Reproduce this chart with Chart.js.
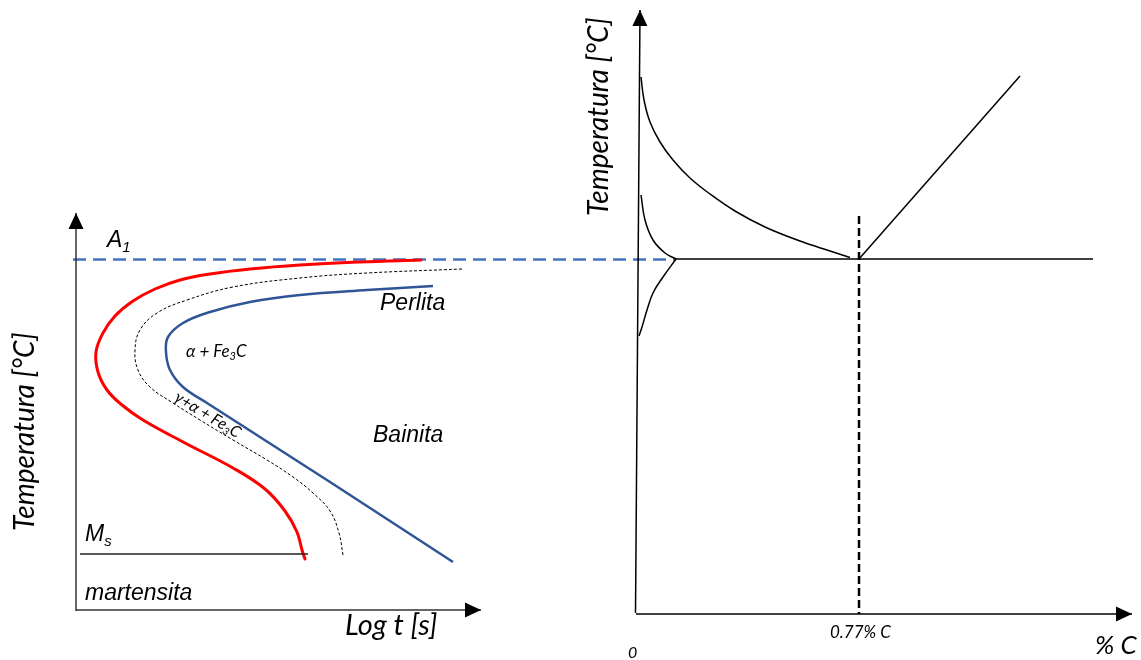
<!DOCTYPE html>
<html>
<head>
<meta charset="utf-8">
<title>Diagrama TTT - Fe-C</title>
<script src="https://cdn.jsdelivr.net/npm/chart.js@4/dist/chart.umd.min.js"></script>
<style>
  body { margin: 0; background: #fff; }
  canvas { display: block; }
</style>
</head>
<body>
<canvas id="diagram" width="1141" height="660"></canvas>
<script>
// Schematic data (drawing units: x to the right, y downwards)

// TTT diagram (left)
const tttAxisY = [{x: 76, y: 611}, {x: 76, y: 213}];
const tttAxisX = [{x: 76, y: 610}, {x: 481, y: 610}];
const a1Line = [{x: 73, y: 259.5}, {x: 676, y: 259.5}];
const msLine = [{x: 80, y: 554}, {x: 308, y: 554}];

// start of transformation (red)
const startCurve = [
  {x: 421, y: 260}, {x: 360, y: 262}, {x: 300, y: 265}, {x: 250, y: 269},
  {x: 210, y: 274}, {x: 180, y: 280}, {x: 155, y: 289}, {x: 133, y: 301},
  {x: 115, y: 316}, {x: 103, y: 333}, {x: 96, y: 352}, {x: 98, y: 372},
  {x: 107, y: 390}, {x: 122, y: 405}, {x: 143, y: 420}, {x: 185, y: 443},
  {x: 233, y: 468}, {x: 265, y: 489}, {x: 285, y: 511}, {x: 297, y: 532},
  {x: 302, y: 550}, {x: 305, y: 559}
];
// 50 % transformed (black dashed)
const halfCurve = [
  {x: 462, y: 269}, {x: 367, y: 273}, {x: 300, y: 278}, {x: 233, y: 287},
  {x: 187, y: 300}, {x: 157, y: 313}, {x: 140, y: 330}, {x: 135, y: 350},
  {x: 138, y: 370}, {x: 150, y: 387}, {x: 173, y: 403}, {x: 200, y: 420},
  {x: 233, y: 440}, {x: 267, y: 460}, {x: 293, y: 477}, {x: 313, y: 493},
  {x: 330, y: 511}, {x: 339, y: 533}, {x: 343, y: 555}
];
// end of transformation (blue)
const endCurve = [
  {x: 433, y: 286}, {x: 367, y: 290}, {x: 300, y: 295}, {x: 250, y: 302},
  {x: 210, y: 312}, {x: 183, y: 323}, {x: 168, y: 337}, {x: 166, y: 352},
  {x: 170, y: 370}, {x: 183, y: 387}, {x: 207, y: 403}, {x: 330, y: 482},
  {x: 453, y: 562}
];

// Fe-C diagram (right)
const feAxisY = [{x: 635.5, y: 613}, {x: 640, y: 10}];
const feAxisX = [{x: 636, y: 614}, {x: 1132, y: 614}];
const eutectoidLine = [{x: 676, y: 259}, {x: 1093, y: 259}];
const a3Curve = [
  {x: 641, y: 77}, {x: 644, y: 100}, {x: 650, y: 122}, {x: 660, y: 142},
  {x: 673, y: 160}, {x: 690, y: 178}, {x: 710, y: 194}, {x: 735, y: 211},
  {x: 765, y: 227}, {x: 800, y: 241}, {x: 830, y: 251}, {x: 850, y: 257.5}
];
const alphaUpper = [{x: 641, y: 195}, {x: 645, y: 220}, {x: 653, y: 240}, {x: 665, y: 253}, {x: 676, y: 259}];
const alphaLower = [{x: 676, y: 259}, {x: 663, y: 277}, {x: 653, y: 293}, {x: 647, y: 310}, {x: 642, y: 327}, {x: 639, y: 336}];
const acmLine = [{x: 859, y: 259}, {x: 1020, y: 76}];
const eutectoidComp = [{x: 859, y: 216}, {x: 859, y: 614}];

// labels: parts are [text, subscript?]
const arial = '"Liberation Sans", Arial, sans-serif';
const calibri = 'Lato, "Open Sans", sans-serif';
const labels = [
  {parts: [['A'], ['1', true]], x: 107, y: 247, size: 23, family: arial},
  {parts: [['Perlita']], x: 380, y: 310, size: 23, family: arial},
  {parts: [['Bainita']], x: 373, y: 442, size: 23, family: arial},
  {parts: [['α + Fe'], ['3', true], ['C']], x: 186, y: 357, size: 17, family: calibri},
  {parts: [['γ+α + Fe'], ['3', true], ['C']], x: 173, y: 400, size: 16, family: calibri, rot: 31},
  {parts: [['M'], ['s', true]], x: 85, y: 541, size: 23, family: arial},
  {parts: [['martensita']], x: 85, y: 600, size: 23, family: arial},
  {parts: [['Log t [s]']], x: 345, y: 635, size: 29, family: calibri},
  {parts: [['Temperatura [°C]']], x: 34, y: 531, size: 28, family: calibri, rot: -90},
  {parts: [['Temperatura [°C]']], x: 608, y: 216, size: 28, family: calibri, rot: -90},
  {parts: [['0.77% C']], x: 830, y: 638, size: 17, family: calibri},
  {parts: [['0']], x: 628, y: 658, size: 16, family: calibri},
  {parts: [['% C']], x: 1095, y: 654, size: 26, family: calibri}
];

function line(data, color, width, extra) {
  return Object.assign({
    data: data,
    showLine: true,
    borderColor: color,
    backgroundColor: color,
    borderWidth: width,
    pointRadius: 0,
    tension: 0,
    clip: false,
    fill: false
  }, extra || {});
}

// draws arrowheads on axes and the text labels
const decorations = {
  id: 'decorations',
  afterDatasetsDraw(chart) {
    const ctx = chart.ctx;
    const sx = chart.scales.x, sy = chart.scales.y;
    chart.data.datasets.forEach((ds) => {
      if (!ds.arrow) return;
      const n = ds.data.length;
      const a = ds.data[n - 2], b = ds.data[n - 1];
      const x0 = sx.getPixelForValue(a.x), y0 = sy.getPixelForValue(a.y);
      const x1 = sx.getPixelForValue(b.x), y1 = sy.getPixelForValue(b.y);
      const ang = Math.atan2(y1 - y0, x1 - x0);
      ctx.save();
      ctx.translate(x1, y1);
      ctx.rotate(ang);
      ctx.beginPath();
      ctx.moveTo(0, 0);
      ctx.lineTo(-16, -7.5);
      ctx.lineTo(-16, 7.5);
      ctx.closePath();
      ctx.fillStyle = '#000';
      ctx.fill();
      ctx.restore();
    });

    labels.forEach((l) => {
      ctx.save();
      ctx.translate(sx.getPixelForValue(l.x), sy.getPixelForValue(l.y));
      if (l.rot) ctx.rotate(l.rot * Math.PI / 180);
      ctx.fillStyle = '#000';
      ctx.textBaseline = 'alphabetic';
      let cx = 0;
      l.parts.forEach((p) => {
        const sub = p[1];
        const size = sub ? l.size * 0.65 : l.size;
        ctx.font = 'italic ' + size + 'px ' + l.family;
        ctx.fillText(p[0], cx, sub ? l.size * 0.2 : 0);
        cx += ctx.measureText(p[0]).width;
      });
      ctx.restore();
    });
  }
};

new Chart(document.getElementById('diagram'), {
  type: 'scatter',
  data: {
    datasets: [
      line(tttAxisY, '#333', 1.5, {arrow: true}),
      line(tttAxisX, '#333', 1.5, {arrow: true}),
      line(msLine, '#222', 1.5),
      line(halfCurve, '#000', 1, {tension: 0.4, borderDash: [3, 2]}),
      line(endCurve, '#2F5597', 2.5, {tension: 0.4}),
      line(startCurve, '#FF0000', 3, {tension: 0.4, borderCapStyle: 'round'}),
      line(feAxisY, '#000', 1.5, {arrow: true}),
      line(feAxisX, '#000', 1.5, {arrow: true}),
      line(eutectoidLine, '#000', 1.5),
      line(a3Curve, '#000', 1.5, {tension: 0.4}),
      line(alphaUpper, '#000', 1.5, {tension: 0.4}),
      line(alphaLower, '#000', 1.5, {tension: 0.4}),
      line(acmLine, '#000', 1.5),
      line(eutectoidComp, '#000', 2.5, {borderDash: [8, 4]}),
      line(a1Line, '#4472C4', 2.5, {borderDash: [13, 7]})
    ]
  },
  options: {
    responsive: false,
    animation: false,
    events: [],
    layout: {padding: 0},
    plugins: {legend: {display: false}, tooltip: {enabled: false}},
    scales: {
      x: {type: 'linear', min: 0, max: 1141, display: false},
      y: {type: 'linear', min: 0, max: 660, reverse: true, display: false}
    }
  },
  plugins: [decorations]
});
</script>
</body>
</html>
